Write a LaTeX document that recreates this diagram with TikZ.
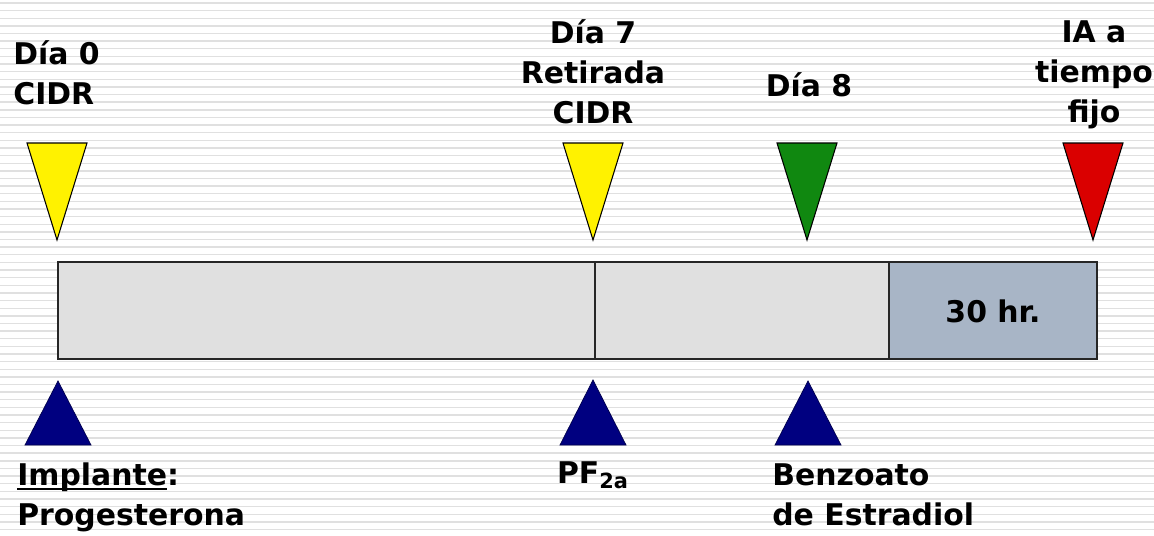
\documentclass[tikz,border=0pt]{standalone}
\usepackage{fontspec}
\setmainfont{DejaVu Sans}
\usepackage{tikz}
\definecolor{navy}{RGB}{0,0,128}
\definecolor{leafgreen}{RGB}{16,136,16}
\definecolor{signalred}{RGB}{218,0,0}
\definecolor{barlight}{RGB}{224,224,224}
\definecolor{barblue}{RGB}{168,181,198}
\definecolor{stripegray}{RGB}{224,224,224}
\newsavebox\ulwordbox
\newcommand{\ulword}[1]{\sbox\ulwordbox{#1}\rlap{\rule[-2.8pt]{\wd\ulwordbox}{1.1pt}}\usebox\ulwordbox}
\tikzset
{
    timetext/.style = {font=\fontsize{17}{22.8}\selectfont\bfseries, inner sep=0pt},
    downmark/.style = {draw=black, line width=0.6pt, line join=miter},
    upmark/.style   = {fill=navy, draw=navy!60!black, line width=0.4pt},
    barpart/.style  = {draw=black!85, line width=0.9pt},
    stripe/.style   = {draw=stripegray, line width=0.8pt}
}

\begin{document}
\begin{tikzpicture}[x=0.02cm, y=-0.02cm]
    \useasboundingbox (0,0) rectangle (1154,535);
    \fill[white] (0,0) rectangle (1154,535);
    \foreach \k in {0,...,69}
        \draw[stripe] (0,{3+7.63*\k}) -- (1154,{3+7.63*\k});

    \draw[barpart, fill=barlight] (58,262) rectangle (595,359);
    \draw[barpart, fill=barlight] (595,262) rectangle (889,359);
    \draw[barpart, fill=barblue] (889,262) rectangle (1097,359);
    \node[timetext] (hours) at (993,311) {30 hr.};

    \draw[downmark, fill=yellow] (27,143) -- (87,143) -- (57,240) -- cycle;
    \draw[downmark, fill=yellow] (563,143) -- (623,143) -- (593,240) -- cycle;
    \draw[downmark, fill=leafgreen] (777,143) -- (837,143) -- (807,240) -- cycle;
    \draw[downmark, fill=signalred] (1063,143) -- (1123,143) -- (1093,240) -- cycle;

    \draw[upmark] (25,445) -- (91,445) -- (58,381) -- cycle;
    \draw[upmark] (560,445) -- (626,445) -- (593,380) -- cycle;
    \draw[upmark] (775,445) -- (841,445) -- (808,381) -- cycle;

    \node[timetext, anchor=north west, align=left] (day0) at (13,40) {Día 0\\CIDR};
    \node[timetext, anchor=north, align=center] (day7) at (593,19) {Día 7\\Retirada\\CIDR};
    \node[timetext, anchor=north] (day8) at (809,72) {Día 8};
    \node[timetext, anchor=north, align=center] (insem) at (1094,20) {IA a\\tiempo\\fijo};

    \node[timetext, anchor=north west, align=left] (implant) at (17,462) {\ulword{Implante}:\\Progesterona};
    \node[timetext, anchor=north] (prosta) at (593,461) {PF\textsubscript{2a}};
    \node[timetext, anchor=north west, align=left] (benzoate) at (772,463) {Benzoato\\de Estradiol};
\end{tikzpicture}
\end{document}
